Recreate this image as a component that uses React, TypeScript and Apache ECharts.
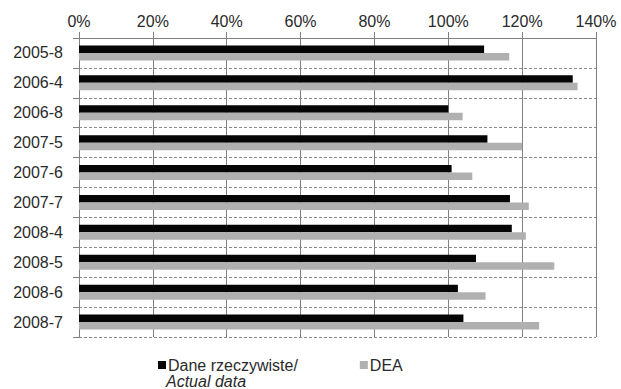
import React, { useEffect, useRef } from "react";
import * as echarts from "echarts";

const categories = ["2005-8", "2006-4", "2006-8", "2007-5", "2007-6", "2007-7", "2008-4", "2008-5", "2008-6", "2008-7"];
const actualData = [109.7, 133.7, 100.0, 110.6, 100.9, 116.7, 117.2, 107.5, 102.6, 104.1];
const deaData = [116.5, 135.0, 103.9, 120.0, 106.5, 121.8, 121.0, 128.7, 110.1, 124.6];
const actualName = "Dane rzeczywiste/ Actual data";
const deaName = "DEA";

const FONT = "'Liberation Sans', Arial, sans-serif";

export default function App() {
  const ref = useRef<HTMLDivElement>(null);
  useEffect(() => {
    if (!ref.current) return;
    const chart = echarts.init(ref.current, null, { renderer: "svg" });
    chart.setOption({
      animation: false,
      backgroundColor: "#ffffff",
      textStyle: { fontFamily: FONT },
      grid: { left: 79, right: 25, top: 38, bottom: 52, containLabel: false },
      xAxis: {
        type: "value",
        position: "top",
        min: 0,
        max: 140,
        interval: 20,
        axisLine: { show: true, lineStyle: { color: "#808080", width: 1 } },
        axisTick: { show: true, length: 6, lineStyle: { color: "#808080" } },
        axisLabel: { formatter: "{value}%", color: "#2a2a2a", fontSize: 16, fontFamily: FONT, margin: 9 },
        splitLine: { show: true, lineStyle: { color: "#808080", width: 1, type: "solid" } },
      },
      yAxis: {
        type: "category",
        inverse: true,
        data: categories,
        axisLine: { show: true, lineStyle: { color: "#808080", width: 1 } },
        axisTick: { show: true, length: 6, lineStyle: { color: "#808080" } },
        axisLabel: { color: "#2a2a2a", fontSize: 16, fontFamily: FONT, margin: 16 },
        splitLine: { show: true, lineStyle: { color: "#8a8a8a", width: 1, type: [3, 2] } },
      },
      legend: {
        left: 158,
        top: 357,
        padding: 0,
        itemWidth: 8,
        itemHeight: 8,
        itemGap: 62,
        icon: "rect",
        data: [actualName, deaName],
        formatter: (name: string) => (name === actualName ? "Dane rzeczywiste/" : name),
        textStyle: { color: "#2a2a2a", fontSize: 16, fontFamily: FONT, lineHeight: 16, padding: [0, 0, 0, -3] },
      },
      graphic: [
        {
          type: "text",
          left: 166,
          top: 373,
          style: { text: "Actual data", fontStyle: "italic", fontSize: 16, lineHeight: 16, fontFamily: FONT, fill: "#2a2a2a" },
        },
      ],
      series: [
        {
          name: actualName,
          type: "bar",
          data: actualData,
          barWidth: 7.5,
          barGap: "0%",
          itemStyle: { color: "#050505" },
        },
        {
          name: deaName,
          type: "bar",
          data: deaData,
          barWidth: 7.5,
          barGap: "0%",
          itemStyle: { color: "#b0b0b0" },
        },
      ],
    });
    return () => chart.dispose();
  }, []);
  return <div ref={ref} style={{ width: 621, height: 389, position: "absolute", left: 0, top: 0 }} />;
}
